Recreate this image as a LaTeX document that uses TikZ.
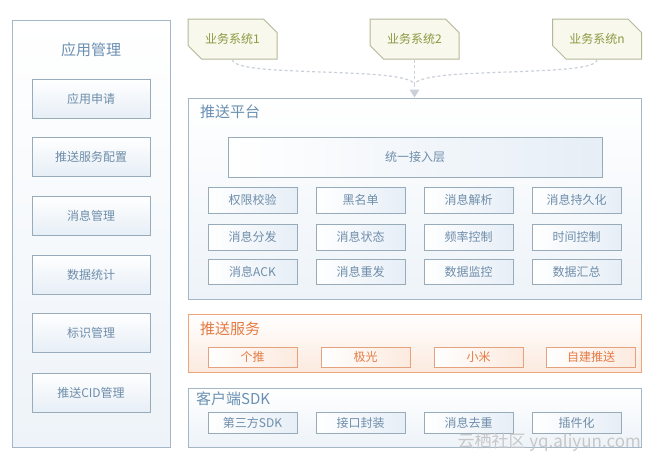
\documentclass[tikz,border=0pt]{standalone}
\usepackage{fontspec}
\setmainfont{Noto Sans CJK SC}
\usetikzlibrary{shapes.misc,arrows.meta}
\definecolor{bord}{HTML}{A3B7C6}
\definecolor{ibord}{HTML}{98ABBA}
\definecolor{txt}{HTML}{6E8DAA}
\definecolor{ttl}{HTML}{6A90B2}
\definecolor{lblue}{HTML}{E6EEF6}
\definecolor{obord}{HTML}{EFA57A}
\definecolor{ofill}{HTML}{FCEADF}
\definecolor{otxt}{HTML}{E57C45}
\definecolor{ibordo}{HTML}{E5A27C}
\definecolor{ybord}{HTML}{B4B89A}
\definecolor{yfill}{HTML}{F8F8EC}
\definecolor{ytxt}{HTML}{8A9A40}
\definecolor{dashc}{HTML}{C9D0D8}
\begin{document}
\begin{tikzpicture}[x=1pt,y=-1pt,
  panel/.style={draw=bord,line width=1pt,top color=white,bottom color=lblue!70,inner sep=0pt},
  lbox/.style={draw=ibord,line width=1pt,top color=white,bottom color=lblue,minimum width=118pt,minimum height=39pt,inner sep=0pt,text=txt,font=\fontsize{12}{14}\selectfont},
  gbox/.style={draw=ibord,line width=1pt,left color=white,right color=lblue,minimum width=89pt,inner sep=0pt,text=txt,font=\fontsize{12}{14}\selectfont},
  obox/.style={draw=ibordo,line width=1pt,left color=white,right color=ofill,minimum width=89pt,minimum height=20pt,inner sep=0pt,text=otxt,font=\fontsize{12}{14}\selectfont},
  sysbox/.style={chamfered rectangle,chamfered rectangle corners={north east,south west},chamfered rectangle xsep=8pt,chamfered rectangle ysep=8pt,draw=ybord,line width=1pt,fill=yfill,minimum width=89pt,minimum height=40pt,inner sep=0pt,text=ytxt,font=\fontsize{12}{14}\selectfont},
  ttlf/.style={text=ttl,font=\fontsize{15}{17}\selectfont,anchor=west,inner sep=0pt},
  dashl/.style={draw=dashc,line width=1.2pt,dash pattern=on 3pt off 2.5pt}
]
\useasboundingbox (0,0) rectangle (652,464);
% left panel
\node[panel,minimum width=158pt,minimum height=427pt] (app) at (91,233.5) {};
\node[text=ttl,font=\fontsize{15}{17}\selectfont] (appt) at (91,50) {应用管理};
\node[lbox] (a1) at (91,99) {应用申请};
\node[lbox] (a2) at (91,156.5) {推送服务配置};
\node[lbox] (a3) at (91,216) {消息管理};
\node[lbox] (a4) at (91,274.5) {数据统计};
\node[lbox] (a5) at (91,333) {标识管理};
\node[lbox] (a6) at (91,393) {推送CID管理};
% business systems
\node[sysbox] (s1) at (232.5,39) {业务系统1};
\node[sysbox] (s2) at (414.5,39) {业务系统2};
\node[sysbox] (s3) at (597,39) {业务系统n};
% platform
\node[panel,minimum width=453pt,minimum height=201pt] (plat) at (414.5,198.5) {};
\node[ttlf] (platt) at (200,112) {推送平台};
\coordinate (j) at (414.5,84);
\draw[dashl] (s1.south) .. controls (232.5,78) and (405,66) .. (j);
\draw[dashl] (s3.south) .. controls (597,78) and (424,66) .. (j);
\draw[dashl] (s2.south) -- (j);
\draw[dashl,-{Triangle[length=8pt,width=10pt,fill=dashc,line width=0pt]}] (j) -- (plat.north);
\node[gbox,minimum width=374pt,minimum height=40pt] (acc) at (415,157) {统一接入层};
\node[gbox,minimum height=26pt] (g11) at (252.5,200) {权限校验};
\node[gbox,minimum height=26pt] (g12) at (360.5,200) {黑名单};
\node[gbox,minimum height=26pt] (g13) at (468.5,200) {消息解析};
\node[gbox,minimum height=26pt] (g14) at (576.5,200) {消息持久化};
\node[gbox,minimum height=26pt] (g21) at (252.5,237) {消息分发};
\node[gbox,minimum height=26pt] (g22) at (360.5,237) {消息状态};
\node[gbox,minimum height=26pt] (g23) at (468.5,237) {频率控制};
\node[gbox,minimum height=26pt] (g24) at (576.5,237) {时间控制};
\node[gbox,minimum height=25pt] (g31) at (252.5,271.5) {消息ACK};
\node[gbox,minimum height=25pt] (g32) at (360.5,271.5) {消息重发};
\node[gbox,minimum height=25pt] (g33) at (468.5,271.5) {数据监控};
\node[gbox,minimum height=25pt] (g34) at (576.5,271.5) {数据汇总};
% push service
\node[draw=obord,line width=1pt,top color=white,bottom color=ofill,minimum width=453pt,minimum height=58pt,inner sep=0pt] (ps) at (414.5,343) {};
\node[ttlf,text=otxt] (pst) at (200,329) {推送服务};
\node[obox] (p1) at (252.5,357) {个推};
\node[obox] (p2) at (365.5,357) {极光};
\node[obox] (p3) at (478.5,357) {小米};
\node[obox] (p4) at (591,357) {自建推送};
% sdk
\node[panel,minimum width=453pt,minimum height=59pt] (sdk) at (414.5,417.5) {};
\node[ttlf] (sdkt) at (196,399) {客户端SDK};
\node[gbox,minimum height=21pt] (k1) at (252.5,422.5) {第三方SDK};
\node[gbox,minimum height=21pt] (k2) at (360.5,422.5) {接口封装};
\node[gbox,minimum height=21pt] (k3) at (468.5,422.5) {消息去重};
\node[gbox,minimum height=21pt] (k4) at (576.5,422.5) {插件化};
% watermark
\node[text=black!22,font=\fontsize{17}{19}\selectfont,anchor=east,inner sep=0pt] (wm) at (641,442) {云栖社区 yq.aliyun.com};
\end{tikzpicture}
\end{document}
